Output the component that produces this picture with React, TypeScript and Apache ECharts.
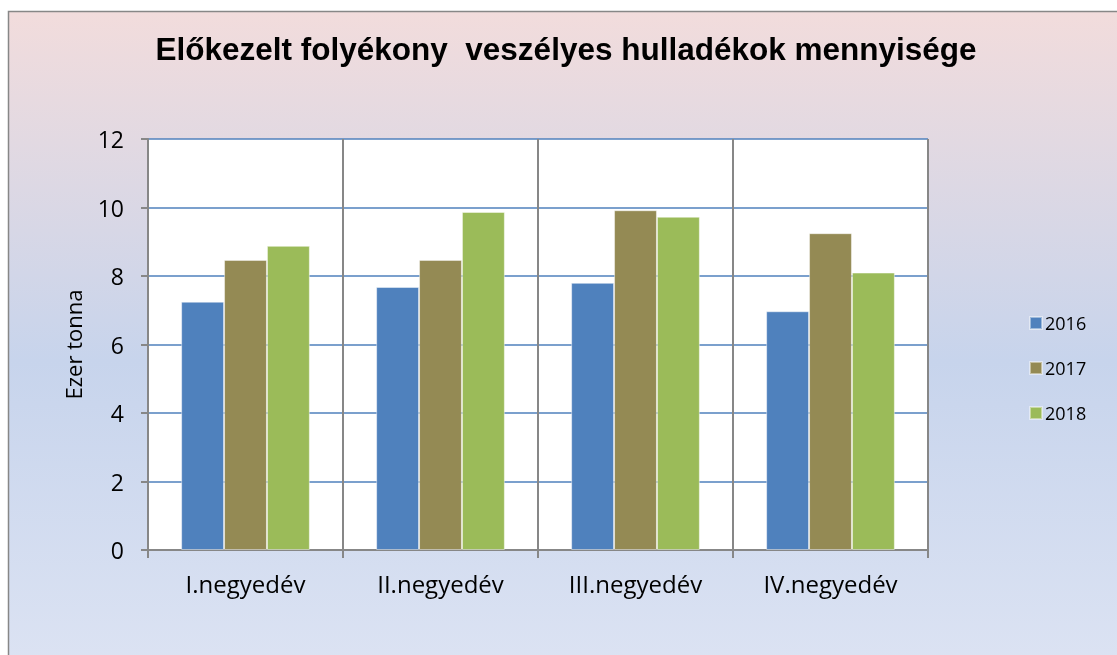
import React, { useEffect, useRef } from "react";
import * as echarts from "echarts";

const title = "Előkezelt folyékony  veszélyes hulladékok mennyisége";
const categories = ["I.negyedév", "II.negyedév", "III.negyedév", "IV.negyedév"];
const seriesNames = ["2016", "2017", "2018"];
const values2016 = [7.25, 7.68, 7.8, 6.97];
const values2017 = [8.47, 8.47, 9.92, 9.25];
const values2018 = [8.88, 9.87, 9.73, 8.1];
const colors = ["#4f81bd", "#948a54", "#9bbb59"];
const yTicks = { min: 0, max: 12, interval: 2 };
const yAxisName = "Ezer tonna";

export default function App() {
  const ref = useRef<HTMLDivElement>(null);
  useEffect(() => {
    if (!ref.current) return;
    const chart = echarts.init(ref.current, undefined, { renderer: "svg" });
    const data = [values2016, values2017, values2018];
    const labelFont = "'Open Sans', Lato, sans-serif";
    chart.setOption({
      animation: false,
      backgroundColor: "transparent",
      graphic: [
        {
          type: "rect",
          z: -10,
          silent: true,
          shape: { x: 8.5, y: 11.5, width: 1200, height: 700 },
          style: {
            fill: new echarts.graphic.LinearGradient(0, 0, 0, 1, [
              { offset: 0, color: "#f2dcdc" },
              { offset: 0.5, color: "#c7d4ec" },
              { offset: 1, color: "#dfe5f4" },
            ]),
            stroke: "#878787",
            lineWidth: 1.5,
          },
        },
      ],
      title: {
        text: title,
        left: 561,
        top: 28,
        textAlign: "center",
        textStyle: {
          fontFamily: "'Liberation Sans', Arial, sans-serif",
          fontWeight: "bold",
          fontSize: 31.5,
          color: "#000",
        },
      },
      legend: {
        orient: "vertical",
        left: 1029,
        top: 314,
        padding: 0,
        itemWidth: 12,
        itemHeight: 12,
        itemGap: 27,
        icon: "rect",
        data: seriesNames,
        textStyle: { fontFamily: labelFont, fontSize: 18, color: "#000", padding: [0, 0, 0, -2] },
      },
      grid: {
        left: 148,
        top: 139,
        right: 189,
        bottom: 105,
        show: true,
        backgroundColor: "#ffffff",
        borderWidth: 0,
      },
      xAxis: {
        type: "category",
        data: categories,
        axisLine: { show: true, lineStyle: { color: "#878787", width: 2 } },
        axisTick: { show: true, interval: 0, length: 8, lineStyle: { color: "#878787", width: 2 } },
        splitLine: { show: true, interval: 0, lineStyle: { color: "#878787", width: 2 } },
        axisLabel: { fontFamily: labelFont, fontSize: 24, color: "#000", margin: 21 },
      },
      yAxis: {
        type: "value",
        min: yTicks.min,
        max: yTicks.max,
        interval: yTicks.interval,
        name: yAxisName,
        nameLocation: "middle",
        nameGap: 64,
        nameRotate: 90,
        nameTextStyle: { fontFamily: labelFont, fontSize: 22, color: "#000" },
        axisLine: { show: true, lineStyle: { color: "#878787", width: 2 } },
        axisTick: { show: true, length: 7, lineStyle: { color: "#878787", width: 2 } },
        splitLine: { show: true, lineStyle: { color: "#4f81bd", width: 1.5 } },
        axisLabel: { fontFamily: labelFont, fontSize: 23, color: "#000", margin: 24 },
      },
      series: seriesNames.map((name, i) => ({
        name,
        type: "bar",
        data: data[i],
        barGap: "0%",
        barCategoryGap: "34%",
        itemStyle: { color: colors[i], borderColor: "rgba(255,255,255,0.45)", borderWidth: 1 },
      })),
    });
    return () => chart.dispose();
  }, []);
  return (
    <div
      ref={ref}
      style={{ position: "fixed", left: 0, top: 0, width: 1117, height: 655 }}
    />
  );
}
